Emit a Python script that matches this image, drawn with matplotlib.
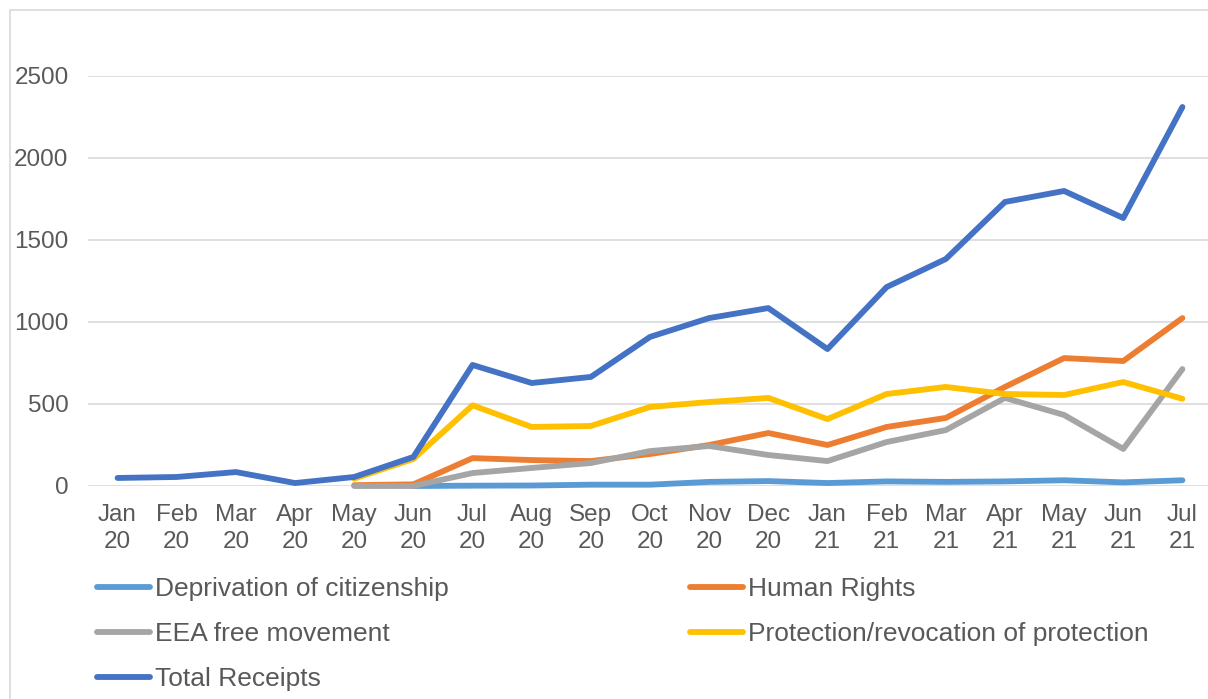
import matplotlib.pyplot as plt
from matplotlib.patches import Rectangle
import numpy as np

plt.rcParams['font.family'] = ['Liberation Sans', 'DejaVu Sans']

nan = np.nan
months = ['Jan\n20', 'Feb\n20', 'Mar\n20', 'Apr\n20', 'May\n20', 'Jun\n20', 'Jul\n20',
          'Aug\n20', 'Sep\n20', 'Oct\n20', 'Nov\n20', 'Dec\n20', 'Jan\n21', 'Feb\n21',
          'Mar\n21', 'Apr\n21', 'May\n21', 'Jun\n21', 'Jul\n21']

deprivation = [nan, nan, nan, nan, nan, 0, 2, 3, 8, 8, 25, 30, 18, 28, 25, 28, 35, 22, 35]
human_rights = [nan, nan, nan, nan, 5, 10, 170, 158, 152, 195, 250, 323, 250, 360, 415, 604, 780, 762, 1024]
eea = [nan, nan, nan, nan, 0, 0, 79, 110, 140, 213, 244, 189, 152, 268, 341, 537, 433, 226, 713]
protection = [nan, nan, nan, nan, 45, 165, 492, 360, 366, 482, 512, 537, 408, 561, 604, 561, 555, 634, 532]
total = [49, 55, 85, 18, 55, 177, 738, 628, 665, 909, 1024, 1085, 835, 1213, 1384, 1732, 1799, 1634, 2311]

series = [
    ('Deprivation of citizenship', deprivation, '#5B9BD5'),
    ('Human Rights', human_rights, '#ED7D31'),
    ('EEA free movement', eea, '#A5A5A5'),
    ('Protection/revocation of protection', protection, '#FFC000'),
    ('Total Receipts', total, '#4472C4'),
]

W, H = 1208, 699
fig = plt.figure(figsize=(W / 100, H / 100), dpi=100)
ax = fig.add_axes([88 / W, (H - 486) / H, 1124 / W, 410 / H])

# chart border
fig.patches.append(Rectangle((10 / W, -0.1), 1.2, (H - 10) / H + 0.1, transform=fig.transFigure,
                             fill=False, edgecolor='#d9d9d9', linewidth=1.2))

x = np.arange(len(months))
handles = {}
for name, vals, col in series:
    ln, = ax.plot(x, vals, color=col, lw=4.2, solid_capstyle='round',
                  solid_joinstyle='round', clip_on=False, label=name)
    handles[name] = ln

ax.set_xlim(-0.5, len(months) - 0.5)
ax.set_ylim(0, 2500)
ax.set_yticks(np.arange(0, 2501, 500))
ax.set_xticks(x)
ax.set_xticklabels(months, linespacing=1.3)
ax.grid(axis='y', color='#d9d9d9', lw=1.2)
ax.set_axisbelow(True)
for s in ax.spines.values():
    s.set_visible(False)
ax.tick_params(axis='both', length=0, labelsize=17.5, labelcolor='#595959')
ax.tick_params(axis='y', pad=14)
ax.tick_params(axis='x', pad=13)

leg_kw = dict(loc='upper left', frameon=False, fontsize=19, handlelength=2.0,
              handletextpad=0.2, labelspacing=0.8, borderpad=0, borderaxespad=0,
              labelcolor='#595959')
left = ['Deprivation of citizenship', 'EEA free movement', 'Total Receipts']
right = ['Human Rights', 'Protection/revocation of protection']
fig.legend([handles[n] for n in left], left, bbox_to_anchor=(97 / W, (H - 577) / H), **leg_kw)
fig.legend([handles[n] for n in right], right, bbox_to_anchor=(690 / W, (H - 577) / H), **leg_kw)

fig.savefig('out.png', dpi=100)
